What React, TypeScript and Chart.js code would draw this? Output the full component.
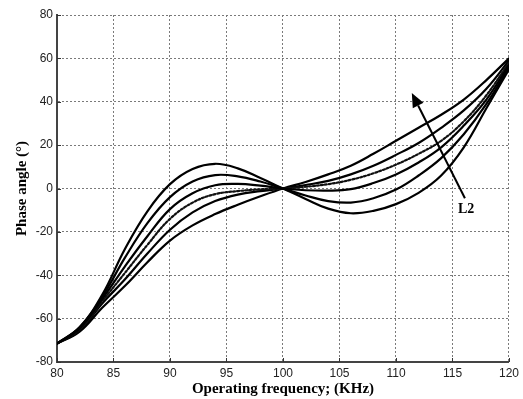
import React, { useEffect, useRef } from 'react';
import { Chart, registerables } from 'chart.js';

Chart.register(...registerables);

// Operating frequency (kHz)
const frequencies = [80, 82, 84, 86, 88, 90, 92, 94, 96, 98, 100, 102, 104, 106, 108, 110, 112, 114, 116, 118, 120];

// Phase angle (deg) for each L2 value (curve1 = strongest S shape)
const curve1 = [-71.5, -64, -49, -28, -10.5, 2, 9, 11.4, 9.3, 4.8, 0, -4.8, -9.3, -11.4, -10.3, -7.2, -2, 6, 19, 37, 55];
const curve2 = [-71.5, -64, -50, -32, -16, -4, 3.2, 6.2, 5.6, 3.2, 0, -3.2, -5.8, -6.5, -4.5, -0.5, 6, 14, 25, 39, 56];
const curve3 = [-71.5, -64.5, -51, -36, -22, -9.5, -2.2, 1.5, 2.1, 1.3, 0, -0.8, -1, -0.3, 2.5, 6.5, 12, 19, 29, 41, 57];
const curveDotted = [-71.5, -65, -52, -39, -26, -14, -6.5, -2.6, -1.2, -0.4, 0, 0.8, 2, 4, 7, 11, 16, 22, 31, 43, 58];
const curve5 = [-71.5, -65.5, -53, -42, -30, -19, -11, -5.8, -2.8, -1.2, 0, 1.6, 3.5, 6.5, 10.5, 15.5, 21, 28, 36, 46, 59];
const curve6 = [-71.5, -66, -55, -45, -34, -24, -17, -11.8, -7.5, -3.6, 0, 3, 6.5, 10.5, 16, 22, 28, 34, 41, 50, 60];

const xTitle = 'Operating frequency; (KHz)';
const yTitle = 'Phase angle (°)';

// Annotation (in data coordinates)
const arrowTail = { x: 116.1, y: -4.5 };
const arrowHead = { x: 111.4, y: 44 };
const arrowLabel = { text: 'L2', x: 116.2, y: -9.8 };

const toPoints = (ys: number[]) => frequencies.map((f, i) => ({ x: f, y: ys[i] }));

const inwardTicks = {
  id: 'inwardTicks',
  afterDraw(chart: any) {
    const { ctx, chartArea, scales } = chart;
    const xs = scales.x;
    const ys = scales.y;
    ctx.save();
    ctx.strokeStyle = '#333';
    ctx.lineWidth = 1;
    ctx.beginPath();
    xs.ticks.forEach((t: any) => {
      const px = Math.round(xs.getPixelForValue(t.value)) + 0.5;
      ctx.moveTo(px, chartArea.bottom);
      ctx.lineTo(px, chartArea.bottom - 4);
    });
    ys.ticks.forEach((t: any) => {
      const py = Math.round(ys.getPixelForValue(t.value)) + 0.5;
      ctx.moveTo(chartArea.left, py);
      ctx.lineTo(chartArea.left + 4, py);
    });
    ctx.stroke();
    ctx.restore();
  },
};

const arrowPlugin = {
  id: 'arrowPlugin',
  afterDatasetsDraw(chart: any) {
    const { ctx, scales } = chart;
    const xs = scales.x;
    const ys = scales.y;
    const x1 = xs.getPixelForValue(arrowTail.x);
    const y1 = ys.getPixelForValue(arrowTail.y);
    const x2 = xs.getPixelForValue(arrowHead.x);
    const y2 = ys.getPixelForValue(arrowHead.y);
    const ang = Math.atan2(y2 - y1, x2 - x1);
    const headLen = 14;
    const headHalf = 6;
    const bx = x2 - headLen * Math.cos(ang);
    const by = y2 - headLen * Math.sin(ang);
    ctx.save();
    ctx.strokeStyle = '#000';
    ctx.fillStyle = '#000';
    ctx.lineWidth = 2;
    ctx.beginPath();
    ctx.moveTo(x1, y1);
    ctx.lineTo(bx, by);
    ctx.stroke();
    ctx.beginPath();
    ctx.moveTo(x2, y2);
    ctx.lineTo(bx + headHalf * Math.sin(ang), by - headHalf * Math.cos(ang));
    ctx.lineTo(bx - headHalf * Math.sin(ang), by + headHalf * Math.cos(ang));
    ctx.closePath();
    ctx.fill();
    ctx.font = 'bold 14px "Liberation Serif"';
    ctx.textAlign = 'center';
    ctx.textBaseline = 'middle';
    ctx.fillText(arrowLabel.text, xs.getPixelForValue(arrowLabel.x), ys.getPixelForValue(arrowLabel.y));
    ctx.restore();
  },
};

export default function App() {
  const canvasRef = useRef<HTMLCanvasElement | null>(null);

  useEffect(() => {
    if (!canvasRef.current) return;
    const solid = (data: number[]) => ({
      data: toPoints(data),
      borderColor: '#000',
      borderWidth: 2.2,
      pointRadius: 0,
      fill: false,
      tension: 0.4,
    });
    const chart = new Chart(canvasRef.current, {
      type: 'line',
      data: {
        datasets: [
          solid(curve1),
          solid(curve2),
          solid(curve3),
          { ...solid(curveDotted), borderDash: [2, 2], borderColor: '#111' },
          solid(curve5),
          solid(curve6),
        ],
      },
      options: {
        animation: false,
        responsive: false,
        devicePixelRatio: 1,
        layout: { padding: { left: 0, right: 10, top: 15, bottom: 0 } },
        plugins: { legend: { display: false }, tooltip: { enabled: false } },
        elements: { line: { borderCapStyle: 'round' } },
        scales: {
          x: {
            type: 'linear',
            min: 80,
            max: 120,
            ticks: {
              stepSize: 5,
              padding: 4,
              color: '#222',
              font: { family: '"Liberation Sans", Arial, sans-serif', size: 12 },
            },
            grid: { color: '#7a7a7a', lineWidth: 1, drawTicks: false },
            border: { display: true, color: '#444', width: 2, dash: [2, 2] },
            title: {
              display: true,
              text: xTitle,
              color: '#000',
              font: { family: '"Liberation Serif", serif', size: 15, weight: 'bold' },
              padding: { top: 0, bottom: 1 },
            },
            afterFit: (scale: any) => {
              scale.height = 37;
            },
          },
          y: {
            type: 'linear',
            min: -80,
            max: 80,
            ticks: {
              stepSize: 20,
              padding: 4,
              color: '#222',
              font: { family: '"Liberation Sans", Arial, sans-serif', size: 12 },
            },
            grid: { color: '#7a7a7a', lineWidth: 1, drawTicks: false },
            border: { display: true, color: '#444', width: 2, dash: [2, 2] },
            title: {
              display: true,
              text: yTitle,
              color: '#000',
              font: { family: '"Liberation Serif", serif', size: 15, weight: 'bold' },
              padding: { top: 13, bottom: 0 },
            },
            afterFit: (scale: any) => {
              scale.width = 57;
            },
          },
        },
      },
      plugins: [inwardTicks, arrowPlugin],
    });
    return () => chart.destroy();
  }, []);

  return (
    <div style={{ position: 'fixed', left: 0, top: 0, width: 523, height: 399, background: '#fff' }}>
      <canvas ref={canvasRef} width={523} height={399} />
    </div>
  );
}
